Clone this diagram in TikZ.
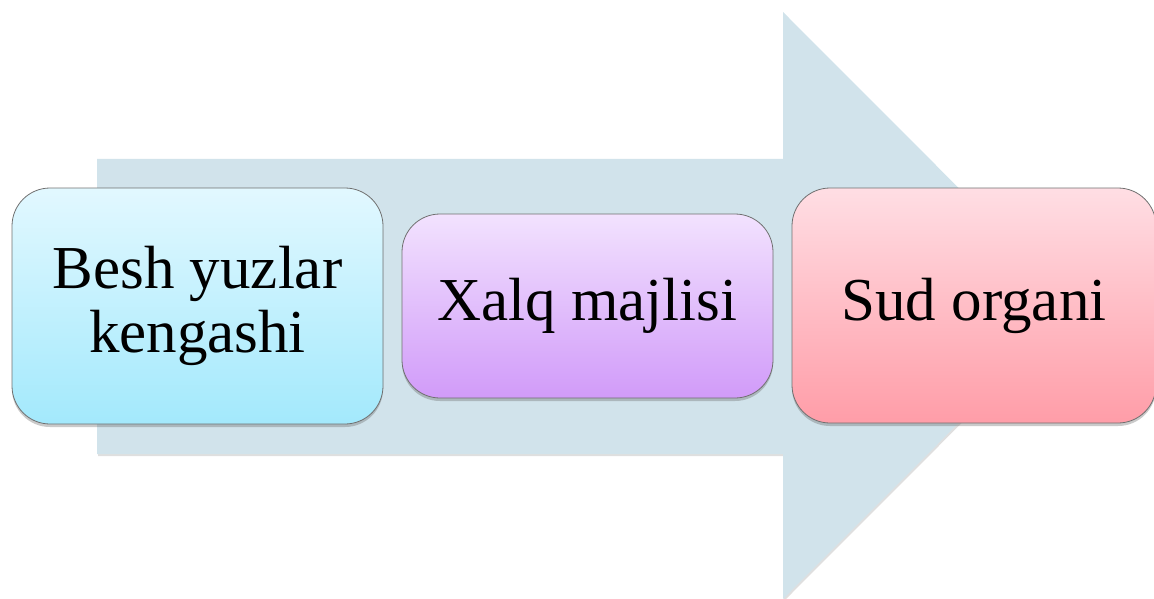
\documentclass[tikz,border=0pt]{standalone}
\usepackage{fontspec}
\setmainfont{Liberation Serif}
\usetikzlibrary{shadows}
\definecolor{arrowfill}{HTML}{D1E3EB}
\definecolor{edgegray}{HTML}{707070}
\definecolor{cyantop}{HTML}{E2F8FF}
\definecolor{cyanbot}{HTML}{A3E9FC}
\definecolor{violettop}{HTML}{F2E2FE}
\definecolor{violetbot}{HTML}{D19BF9}
\definecolor{pinktop}{HTML}{FFDEE4}
\definecolor{pinkbot}{HTML}{FF9DA8}
\tikzset{
  stage/.style={draw=edgegray, line width=0.8pt, rounded corners=38pt,
    align=center, inner sep=0pt, font=\fontsize{61}{64}\selectfont,
    drop shadow={shadow xshift=0pt, shadow yshift=-3pt, opacity=0.35, fill=black!60}},
  bigarrow/.style={fill=arrowfill, draw=none,
    drop shadow={shadow xshift=1pt, shadow yshift=-2pt, opacity=0.25, fill=black!50}}
}
\begin{document}
\begin{tikzpicture}[x=1pt, y=-1pt]
  \useasboundingbox (0,0) rectangle (1154,599);
  \clip (0,0) rectangle (1154,599);
  % broad arrow behind the stages
  \path[bigarrow] (97,159) -- (783,159) -- (783,12) -- (1076,305.5)
    -- (783,599) -- (783,454) -- (97,454) -- cycle;
  % stages
  \node[stage, minimum width=371pt, minimum height=236pt,
        top color=cyantop, bottom color=cyanbot]
        (kengash) at (197.5,306) {Besh yuzlar\\kengashi};
  \node[stage, minimum width=371pt, minimum height=184pt,
        top color=violettop, bottom color=violetbot]
        (majlis) at (587.5,306) {\raisebox{-3pt}{Xalq majlisi}};
  \node[stage, minimum width=364pt, minimum height=235pt,
        top color=pinktop, bottom color=pinkbot]
        (sud) at (974,305.5) {\raisebox{-3pt}{Sud organi}};
\end{tikzpicture}
\end{document}
